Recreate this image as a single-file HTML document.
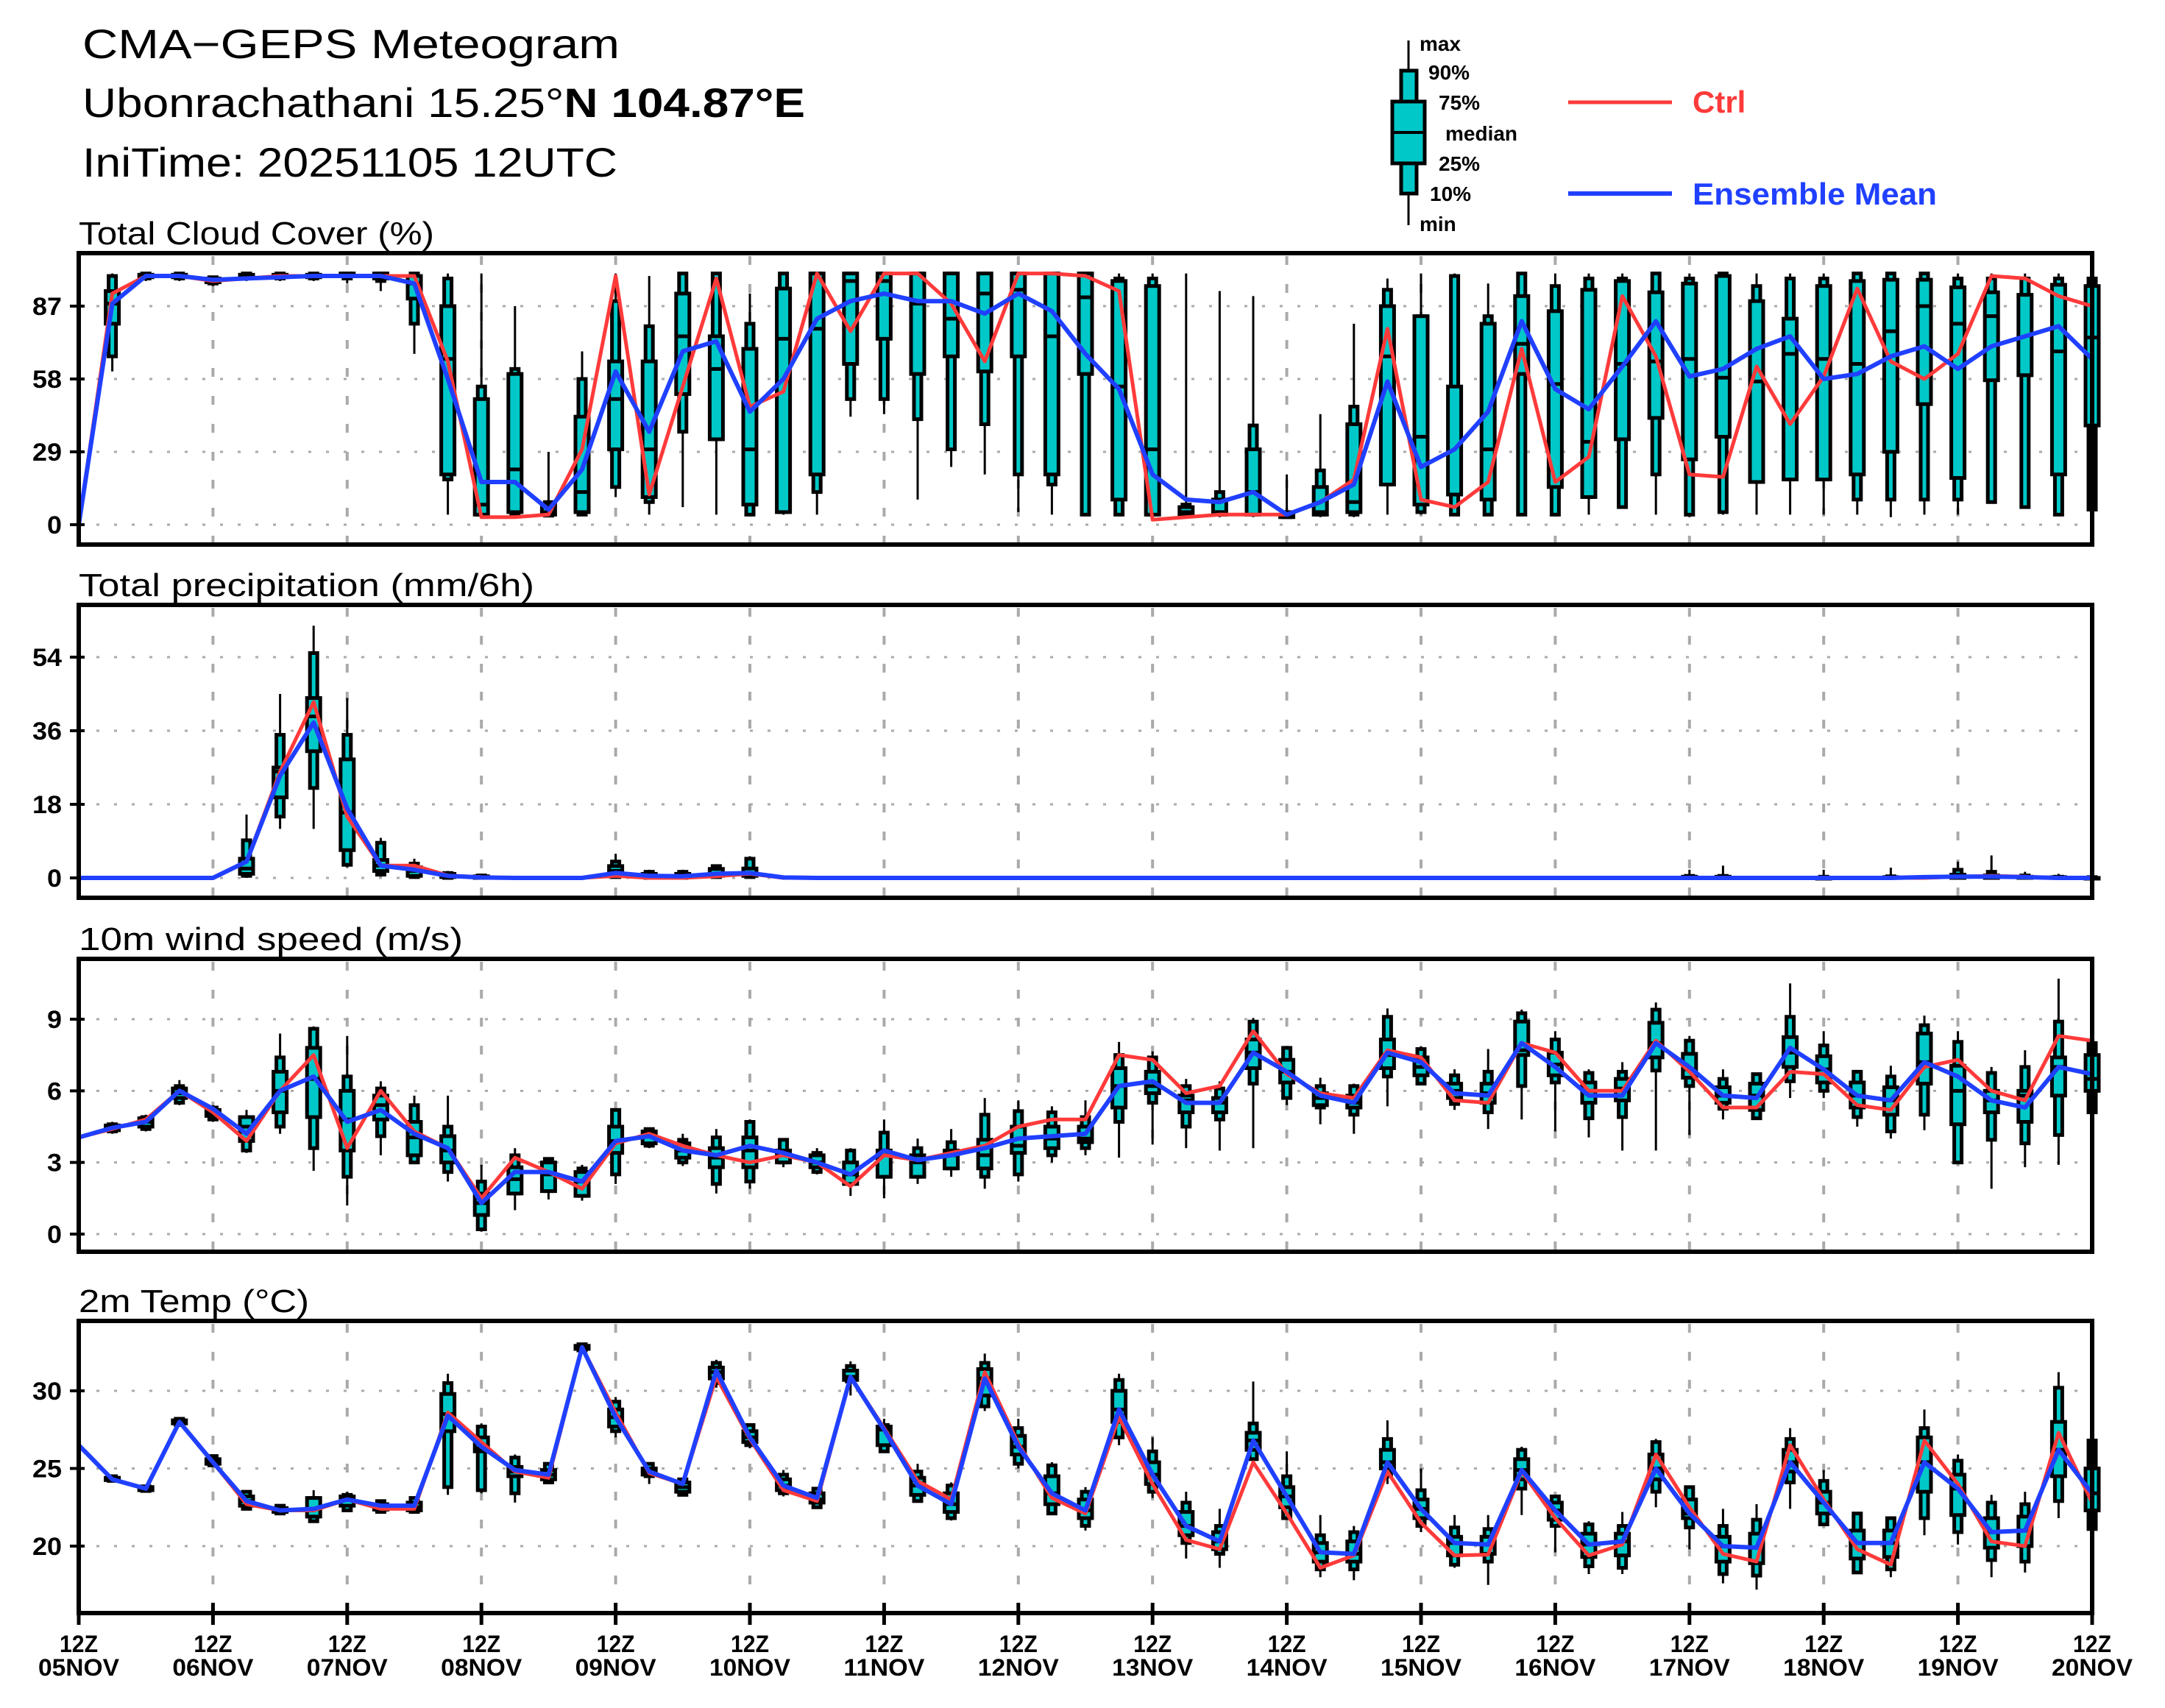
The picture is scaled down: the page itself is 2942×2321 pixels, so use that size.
<!DOCTYPE html>
<html><head><meta charset="utf-8"><title>CMA-GEPS Meteogram</title>
<style>html,body{margin:0;padding:0;background:#fff}svg{display:block}text{font-family:"Liberation Sans",sans-serif}</style>
</head><body>
<svg id="chart" xmlns="http://www.w3.org/2000/svg" width="2942" height="2321" viewBox="0 0 2942 2321">
<rect width="2942" height="2321" fill="#fff"/>
<g>
<text x="112" y="79" font-size="56" textLength="730" lengthAdjust="spacingAndGlyphs">CMA−GEPS Meteogram</text>
<text x="112" y="159" font-size="56" textLength="982" lengthAdjust="spacingAndGlyphs">Ubonrachathani 15.25°<tspan font-weight="bold">N 104.87°E</tspan></text>
<text x="112" y="240" font-size="56" textLength="727" lengthAdjust="spacingAndGlyphs">IniTime: 20251105 12UTC</text>
</g>
<g font-weight="bold" font-size="28">
<line x1="1914" y1="55" x2="1914" y2="306" stroke="#000" stroke-width="3"/>
<rect x="1904" y="96" width="21" height="167" fill="#00c8c8" stroke="#000" stroke-width="5"/>
<rect x="1892" y="138" width="44" height="84" fill="#00c8c8" stroke="#000" stroke-width="5"/>
<line x1="1892" y1="180" x2="1936" y2="180" stroke="#000" stroke-width="4"/>
<text x="1929" y="69">max</text><text x="1941" y="108">90%</text><text x="1955" y="149">75%</text>
<text x="1964" y="191">median</text><text x="1955" y="232">25%</text><text x="1943" y="273">10%</text><text x="1929" y="314">min</text>
</g>
<g>
<line x1="2131" y1="139" x2="2272" y2="139" stroke="#ff3a3a" stroke-width="5"/>
<text x="2300" y="153" font-size="42" font-weight="bold" fill="#ff3a3a">Ctrl</text>
</g>
<g>
<line x1="2131" y1="263" x2="2272" y2="263" stroke="#2040ff" stroke-width="6"/>
<text x="2300" y="278" font-size="42" font-weight="bold" fill="#2040ff" textLength="332" lengthAdjust="spacingAndGlyphs">Ensemble Mean</text>
</g>
<g id="panels"></g>
</svg>
<script>
// ---- shared time axis ----
const timeSteps = 61;
const dayLabels = ["05NOV","06NOV","07NOV","08NOV","09NOV","10NOV","11NOV","12NOV","13NOV","14NOV","15NOV","16NOV","17NOV","18NOV","19NOV","20NOV"];

// ---- Total Cloud Cover ----
const cloudTicks = [0,29,58,87];
const cloudCtrl = [0,92,99,99,97,98,99,99,99,99,99,65,3,3,4,30,99,12,55,98,47,53,100,77,100,100,88,65,100,100,99,93,2,3,4,4,4,9,18,78,10,7,17,70,17,27,91,67,20,19,63,40,59,94,65,58,68,99,98,91,87];
const cloudMean = [0,88,99,99,97.5,98,98.5,99,99,99,96,58,17,17,6,22,61,37,69,73,45,58,82,89,92,89,89,84,92,85,68,54,20,10,9,13,4,9,16,57,23,30,45,81,54,46,63,81,59,62,70,75,58,60,67,71,62,71,75,79,66];
const cloudBox = [null,[61,67,80,88,93,99,100],[97,98,98.5,99,99.5,100,100],[97,98,98.5,99,99.5,100,100],[95,96,96.5,97,98,98.5,99],[97,98,98.5,99,99.5,100,100],[97,98,98.5,99,99.5,100,100],[97,98,98.5,99,99.5,100,100],[96,98,99,99,100,100,100],[93,97,98,99,100,100,100],[68,80,90,96,99,100,100],
[4,18,20,66,87,98,100],[3,4,4,8,50,55,100],[3,4,5,22,60,62,87],[3,3.6,4,5,8,9,29],[4,4,5,13,43,58,69],[11,15,30,50,65,89,100],[4,9,11,30,65,79,99],[7,37,52,75,92,100,100],[4,34,34,62,75,100,100],[4,4,8,30,70,80,92],
[4,5,5,74,94,100,100],[4,13,20,78,100,100,100],[43,50,64,97,100,100,100],[44,50,74,97,100,100,100],[10,42,60,88,100,100,100],[23,30,67,82,100,100,100],[20,40,61,92,100,100,100],[5,20,67,93.5,100,100,100],[4,16,20,75,100,100,100],[4,4,60,90.5,100,100,100],
[4,4,10,55,97,98,100],[4,4,4,30,95,98,100],[3,4,4,5,7,8,100],[3,4,4,5,10,13,93],[3,4,4,13,30,39.5,91],[3,3,3,4,4,5,20],[3,4,4,5,15,21.6,44],[3,4,5,9,40,47,80],[4,16,16,67,87,93.5,98],[4,5,8,35,83,83,100],
[4,4,12,12,55,99,100],[4,4,10,30,80,83,96],[4,4,60,72,91,100,100],[4,4,15,56,85,95,100],[4,11,11,33,93.5,98,100],[7,7,34,64,97,98,100],[4,20,42.5,65,92.5,100,100],[3,4,26,66,96,98,100],[4,5,35,58.5,99,100,100],[4,17,17,57,89,95,100],
[4,18,18,68,82,98,100],[4,18,18,66,95,98,100],[4,10,20,64,97,100,100],[3,10,29,77,97.5,100,100],[4,10,48,87,97.5,100,100],[4,10,18.6,80,94.5,98,100],[9,9,57.5,83,92.5,98,100],[7,7,59.5,59.5,91.5,98,100],[4,4,20,69,95.5,98,100],[4,6,39.5,74.5,95,98,100]];

// ---- Total precipitation ----
const precTicks = [0,18,36,54];
const precCtrl = [0,0,0,0,0,4,26,43,15,3,3,0.6,0.2,0,0,0,0.5,0,0,0.4,1,0,0,0,0,0,0,0,0,0,0,0,0,0,0,0,0,0,0,0,0,0,0,0,0,0,0,0,0,0,0,0,0,0,0,0,0.3,0.5,0.3,0,0];
const precMean = [0,0,0,0,0,4,25,38,17,3,2,0.5,0.1,0,0,0,1.2,0.5,0.4,1,1.2,0.1,0,0,0,0,0,0,0,0,0,0,0,0,0,0,0,0,0,0,0,0,0,0,0,0,0,0,0,0,0,0,0,0,0,0.2,0.3,0.3,0.2,0,0];
const precBox = [null,null,null,null,null,[0,0.5,1,2.3,4.7,9.2,15.5],[12,15,19.7,26,27,35,45],[12,22,31,39.5,44,55,61.7],[2.6,3.2,6.8,16,29,35,44],[0.3,0.8,1.7,3,4.4,8.6,9.8],[0,0.2,0.5,1.7,2.6,3.5,4.7],
[0,0,0.2,0.5,1,1.2,1.7],[0,0,0,0.2,0.4,0.6,1],null,null,null,[0,0.2,0.5,1.7,2.9,4,5.9],[0,0,0.2,0.5,1,1.5,2],[0,0,0.1,0.5,1,1.5,2],[0,0.2,0.5,1,2.2,2.9,3.2],[0,0.2,0.5,1.1,2.3,4.7,5.3],
null,null,null,null,null,null,null,null,null,null,
null,null,null,null,null,null,null,null,null,null,
null,null,null,null,null,null,null,
[0,0,0,0,0.3,0.5,2],[0,0,0,0,0.3,0.5,3],null,null,[0,0,0,0,0,0.3,2],null,[0,0,0,0,0.2,0.4,2.5],null,[0,0,0,0.2,0.8,2,4],[0,0,0,0.2,0.6,1.5,5.5],[0,0,0,0,0.3,0.6,1.5],[0,0,0,0,0.2,0.3,1],[0,0,0,0,0,0.2,0.5]];

// ---- 10m wind speed ----
const windTicks = [0,3,6,9];
const windCtrl = [4.05,4.4,4.8,6.0,5.1,3.9,6.0,7.5,3.6,6.0,4.3,3.6,1.5,3.2,2.6,1.9,3.8,4.2,3.7,3.3,3.0,3.3,3.0,2.0,3.3,3.1,3.4,3.7,4.5,4.8,4.8,7.5,7.3,5.9,6.2,8.5,6.7,5.9,5.7,7.7,7.4,5.6,5.5,8.0,7.6,6.0,6.0,8.1,6.8,5.3,5.3,6.8,6.7,5.4,5.2,7.0,7.3,6.0,5.6,8.3,8.1];
const windMean = [4.05,4.45,4.7,6.0,5.25,4.2,6.0,6.6,4.7,5.2,4.2,3.6,1.3,2.6,2.6,2.2,3.9,4.1,3.5,3.3,3.7,3.4,3.0,2.5,3.5,3.1,3.3,3.6,4.0,4.1,4.2,6.2,6.4,5.5,5.5,7.6,6.8,5.8,5.5,7.6,7.2,5.9,5.8,8.0,7.0,5.8,5.8,8.0,7.0,5.8,5.7,7.8,6.9,5.8,5.6,7.2,6.6,5.6,5.3,7.0,6.7];
const windBox = [null,[4.2,4.3,4.35,4.45,4.55,4.6,4.7],[4.3,4.4,4.5,4.7,4.85,4.9,5.0],[5.4,5.5,5.7,5.9,6.1,6.2,6.45],[4.7,4.8,4.95,5.1,5.2,5.3,5.4],[3.4,3.5,3.9,4.5,4.9,4.9,5.2],[4.2,4.5,5.1,6.0,6.8,7.4,8.4],[2.65,3.6,4.9,6.5,7.8,8.6,8.7],[1.2,2.4,3.5,4.8,6.0,6.6,8.3],[3.3,4.1,4.8,5.4,5.8,6.1,6.4],[3.0,3.0,3.3,4.05,4.7,5.4,5.8],
[2.2,2.6,3.0,3.5,4.1,4.5,5.8],[0.1,0.2,0.8,1.3,1.7,2.2,2.9],[1.0,1.7,1.7,2.3,2.8,3.3,3.6],[1.45,1.8,1.8,2.5,3.0,3.15,3.2],[1.4,1.6,1.6,2.2,2.6,2.75,2.9],[2.1,2.5,3.4,3.9,4.5,5.2,5.25],[3.6,3.7,3.8,4.1,4.3,4.4,4.4],[2.85,3.0,3.2,3.5,3.8,3.95,4.2],[1.7,2.1,2.8,3.2,3.6,4.05,4.4],[1.9,2.2,2.8,3.5,4.05,4.7,4.8],
[2.8,3.0,3.0,3.3,3.5,3.95,4.0],[2.5,2.6,2.8,3.0,3.3,3.4,3.6],[1.6,2.1,2.1,2.5,3.0,3.5,3.6],[1.5,2.4,2.4,3.3,3.5,4.25,4.8],[2.1,2.4,2.4,3.0,3.3,3.6,4.0],[2.4,2.75,2.75,3.3,3.5,3.85,4.4],[1.9,2.4,2.75,3.3,3.95,5.0,5.7],[2.2,2.5,3.4,3.7,4.5,5.15,5.6],[3.0,3.3,3.6,4.0,4.5,5.1,5.35],[3.3,3.6,3.85,4.0,4.5,4.9,5.6],
[3.2,4.7,5.3,6.2,6.95,7.5,8.05],[3.75,5.5,5.9,6.2,6.8,7.4,7.65],[3.6,4.5,5.1,5.6,5.8,6.2,6.5],[3.5,4.8,5.1,5.5,5.7,6.1,6.4],[3.6,6.3,6.95,7.6,8.15,8.9,9.05],[5.4,5.7,6.35,6.8,7.3,7.8,7.85],[4.6,5.3,5.4,5.7,5.9,6.2,6.55],[4.2,5.0,5.3,5.5,5.8,6.2,6.3],[5.35,6.6,6.95,7.5,8.15,9.1,9.45],[6.3,6.3,6.65,7.0,7.4,7.75,7.85],
[5.2,5.45,5.7,6.0,6.3,6.65,6.9],[4.4,5.1,5.5,5.9,6.3,6.8,7.75],[4.8,6.2,7.5,7.7,8.9,9.25,9.4],[4.3,6.35,6.65,7.1,7.6,8.15,8.5],[4.05,4.85,5.5,6.0,6.35,6.75,6.9],[3.5,4.9,5.6,6.1,6.5,6.8,7.2],[3.5,6.85,7.4,8.0,8.85,9.4,9.7],[4.15,6.2,6.55,6.9,7.55,8.1,8.3],[4.8,5.25,5.5,5.8,6.15,6.5,6.9],[4.8,4.85,5.2,5.8,6.3,6.7,6.75],
[5.7,6.4,7.0,7.6,8.25,9.1,10.5],[5.7,6.0,6.35,6.9,7.45,7.9,8.5],[4.5,4.9,5.3,5.8,6.35,6.8,6.85],[4.0,4.3,5.0,5.6,6.15,6.6,7.05],[4.35,5.0,6.3,7.2,8.4,8.75,9.15],[3.0,3.0,4.6,6.0,7.05,8.05,8.5],[1.9,3.95,5.1,5.6,6.0,6.75,7.0],[2.8,3.8,4.7,5.8,6.0,7.0,7.7],[2.9,4.15,5.8,7.0,7.4,8.9,10.7],[5.1,5.1,6.0,6.5,7.5,8.0,8.1]];

// ---- 2m Temperature ----
const tempTicks = [20,25,30];
const tempCtrl = [26.5,24.3,23.7,28.0,25.4,22.7,22.3,22.3,23.0,22.4,22.4,28.6,26.7,24.8,24.4,32.8,28.6,24.7,24.0,30.9,26.9,23.6,22.9,30.9,27.6,24.2,23.0,31.2,26.6,23.1,22.1,28.3,24.0,20.4,19.8,25.4,22.1,18.6,19.4,24.8,21.5,19.4,19.45,24.8,21.8,19.4,20.1,25.9,22.5,19.5,19.0,26.5,23.0,19.8,18.8,26.8,24.0,20.3,20.0,27.3,22.8];
const tempMean = [26.5,24.3,23.7,28.0,25.4,22.9,22.3,22.4,23.0,22.6,22.6,28.4,26.4,24.9,24.6,32.8,28.3,24.8,24.0,31.3,27.0,23.9,23.1,30.9,27.5,23.9,22.7,30.8,26.4,23.4,22.3,28.8,24.6,21.3,20.3,26.8,23.2,19.6,19.5,25.4,22.4,20.2,20.1,24.9,22.3,20.1,20.3,25.0,22.1,20.0,19.9,25.4,22.8,20.2,20.2,25.4,23.7,20.9,21.0,26.2,23.4];
const tempBox = [null,[24.1,24.2,24.25,24.3,24.4,24.5,24.55],[23.5,23.55,23.6,23.7,23.8,23.85,23.9],[27.7,27.8,27.9,28.0,28.1,28.2,28.3],[25.1,25.2,25.3,25.4,25.6,25.8,25.9],[22.3,22.4,22.6,22.9,23.2,23.5,23.6],[22.0,22.1,22.2,22.3,22.45,22.6,22.7],[21.6,21.6,21.9,22.4,23.1,23.1,23.6],[22.2,22.3,22.6,23.0,23.2,23.3,23.5],[22.1,22.2,22.35,22.5,22.7,22.9,23.0],[22.1,22.2,22.3,22.5,22.8,23.1,23.2],
[23.3,23.8,27.4,28.5,29.8,30.5,31.1],[23.4,23.6,26.1,26.3,27.0,27.7,27.9],[22.8,23.4,24.5,24.8,25.1,25.7,25.9],[24.0,24.1,24.3,24.6,24.9,25.3,25.4],[32.5,32.6,32.7,32.8,32.9,33.0,33.1],[27.0,27.4,27.7,28.3,28.8,29.3,29.6],[24.0,24.5,24.6,24.8,25.0,25.3,25.4],[23.2,23.3,23.5,23.8,24.1,24.3,24.4],[30.2,30.5,30.8,31.2,31.5,31.8,32.0],
[26.3,26.5,26.7,27.0,27.4,27.8,27.9],[23.2,23.4,23.6,23.9,24.3,24.6,24.9],[22.4,22.5,22.8,23.0,23.4,23.7,23.8],[29.7,30.6,30.7,30.9,31.3,31.6,31.9],[26.0,26.1,26.5,27.5,27.7,27.8,28.2],[22.8,22.9,23.3,23.9,24.4,24.8,25.3],[21.65,21.8,22.2,22.7,23.4,23.9,24.1],[28.7,29.0,29.7,30.8,31.4,31.8,32.4],[25.0,25.3,25.9,26.4,27.1,27.6,28.2],[22.0,22.1,22.7,23.4,24.5,25.2,25.4],
[21.0,21.3,21.8,22.3,23.0,23.5,23.8],[26.5,27.0,28.0,28.8,30.0,30.7,31.1],[23.1,23.5,24.0,24.6,25.4,26.1,27.0],[19.2,20.2,20.7,21.3,22.2,22.8,23.5],[18.6,19.5,19.8,20.3,20.9,21.3,22.4],[25.5,25.6,26.2,26.8,27.3,27.9,30.6],[21.7,21.8,22.5,23.2,23.8,24.5,26.1],[18.0,18.5,19.0,19.6,20.2,20.7,22.0],[17.8,18.5,19.0,19.5,20.3,20.9,21.3],[24.0,24.5,25.0,25.4,26.2,26.9,28.1],
[20.9,21.3,21.8,22.4,23.0,23.6,25.0],[18.6,18.8,19.4,20.2,20.6,21.2,22.0],[17.5,19.0,19.5,20.1,20.6,21.1,22.0],[22.0,23.7,24.3,24.9,25.6,26.2,26.4],[19.6,21.3,21.7,22.3,22.8,23.2,23.3],[18.2,18.7,19.3,20.1,20.8,21.4,21.6],[18.2,18.6,19.4,20.3,20.8,21.3,22.2],[22.5,23.5,24.3,25.0,25.9,26.7,26.9],[19.8,21.2,21.8,22.1,23.0,23.8,23.8],[17.6,18.2,19.0,20.0,20.6,21.3,22.4],
[17.2,18.1,18.9,19.9,20.8,21.7,22.7],[22.4,24.1,24.8,25.4,26.2,26.9,27.6],[21.4,21.4,22.1,22.8,23.5,24.2,24.9],[18.2,18.3,19.2,20.2,21.0,22.1,22.1],[18.0,18.5,19.3,20.2,21.0,21.8,21.8],[20.7,21.8,23.5,25.4,27.0,27.6,28.8],[20.1,20.9,22.0,23.7,24.6,25.5,25.9],[18.0,19.1,19.9,20.9,21.8,22.8,23.3],[18.3,19.0,20.0,21.0,21.9,22.7,23.5],[21.8,22.9,24.5,26.2,28.0,30.2,31.2],[21.1,21.1,22.3,23.4,25.0,26.8,26.8]];

const NS = "http://www.w3.org/2000/svg";
const XL = 107, XR = 2843;
function xScale(t){ return XL + (XR - XL) * t / (timeSteps - 1); }
function mk(tag, attrs, parent){ const e = document.createElementNS(NS, tag); for (const k in attrs) e.setAttribute(k, attrs[k]); parent.appendChild(e); return e; }

const panelsRoot = document.getElementById("panels");

function drawPanel(cfg){
  const g = mk("g", {}, panelsRoot);
  
  
  const yScale = v => cfg.y0px + (v - cfg.v0) * (cfg.y1px - cfg.y0px) / (cfg.v1 - cfg.v0);
  const tt = mk("text", {x: 107, y: cfg.top - 12, "font-size": 44, textLength: cfg.titleLen, lengthAdjust: "spacingAndGlyphs"}, g);
  
  
  tt.textContent = cfg.title;
  cfg.ticks.forEach(v => {
    const y = yScale(v);
    const gl = mk("line", {x1: XL, x2: XR, y1: y, y2: y, stroke: "#aaa", "stroke-width": 3, "stroke-dasharray": "4 20"}, g);
    
    
    mk("line", {x1: XL - 12, x2: XL + 8, y1: y, y2: y, stroke: "#000", "stroke-width": 4}, g);
    const lb = mk("text", {x: 84, y: y + 12, "font-size": 34, "font-weight": "bold", "text-anchor": "end", textLength: String(v).length * 20, lengthAdjust: "spacingAndGlyphs"}, g);
    
    
    lb.textContent = v;
  });
  for (let t = 4; t < timeSteps - 1; t += 4){
    const x = xScale(t);
    const vl = mk("line", {x1: x, x2: x, y1: cfg.top + 4, y2: cfg.bottom, stroke: "#aaa", "stroke-width": 4, "stroke-dasharray": "12 26"}, g);
    
    
  }
  const boxes = mk("g", {}, g);
  
  
  cfg.box.forEach((b, t) => {
    if (!b || t >= timeSteps) return;
    if (cfg.minRange && b[6] - b[0] < cfg.minRange) return;
    const x = xScale(t);
    const bg = mk("g", {}, boxes);
    
    
    mk("line", {x1: x, x2: x, y1: yScale(b[0]), y2: yScale(b[6]), stroke: "#000", "stroke-width": 3}, bg);
    mk("rect", {x: x - 5, y: yScale(b[5]), width: 10, height: Math.max(1, yScale(b[1]) - yScale(b[5])), fill: "#00c8c8", stroke: "#000", "stroke-width": 5}, bg);
    mk("rect", {x: x - 9, y: yScale(b[4]), width: 18, height: Math.max(1, yScale(b[2]) - yScale(b[4])), fill: "#00c8c8", stroke: "#000", "stroke-width": 5}, bg);
    mk("line", {x1: x - 9, x2: x + 9, y1: yScale(b[3]), y2: yScale(b[3]), stroke: "#000", "stroke-width": 5}, bg);
  });
  const ctrlPts = cfg.ctrl.map((v, t) => xScale(t).toFixed(1) + "," + yScale(v).toFixed(1)).join(" ");
  const meanPts = cfg.mean.map((v, t) => xScale(t).toFixed(1) + "," + yScale(v).toFixed(1)).join(" ");
  const cl = mk("polyline", {points: ctrlPts, fill: "none", stroke: "#ff3a3a", "stroke-width": 5, "stroke-linejoin": "round"}, g);
  
  
  const ml = mk("polyline", {points: meanPts, fill: "none", stroke: "#2040ff", "stroke-width": 6, "stroke-linejoin": "round"}, g);
  
  
  const fr = mk("rect", {x: XL, y: cfg.top, width: XR - XL, height: cfg.bottom - cfg.top, fill: "none", stroke: "#000", "stroke-width": 6}, g);
  
  
}

drawPanel({name: "cloud-cover-panel", title: "Total Cloud Cover (%)", titleLen: 483, top: 344, bottom: 740, v0: 0, v1: 87, y0px: 713, y1px: 416, ticks: cloudTicks, ctrl: cloudCtrl, mean: cloudMean, box: cloudBox});
drawPanel({name: "precip-panel", title: "Total precipitation (mm/6h)", titleLen: 619, top: 822, bottom: 1220, v0: 0, v1: 54, y0px: 1193, y1px: 893, ticks: precTicks, ctrl: precCtrl, mean: precMean, box: precBox, minRange: 0.3});
drawPanel({name: "wind-panel", title: "10m wind speed (m/s)", titleLen: 522, top: 1303, bottom: 1701, v0: 0, v1: 9, y0px: 1677, y1px: 1385, ticks: windTicks, ctrl: windCtrl, mean: windMean, box: windBox});
drawPanel({name: "temp-panel", title: "2m Temp (°C)", titleLen: 313, top: 1795, bottom: 2192, v0: 20, v1: 30, y0px: 2101, y1px: 1890, ticks: tempTicks, ctrl: tempCtrl, mean: tempMean, box: tempBox});

const xg = mk("g", {}, panelsRoot);


dayLabels.forEach((d, i) => {
  const x = xScale(i * 4);
  mk("line", {x1: x, x2: x, y1: 2178, y2: 2208, stroke: "#000", "stroke-width": 5}, xg);
  const a = mk("text", {x: x, y: 2245, "font-size": 32, "font-weight": "bold", "text-anchor": "middle", textLength: 52, lengthAdjust: "spacingAndGlyphs"}, xg);
  
  
  a.textContent = "12Z";
  const b = mk("text", {x: x, y: 2277, "font-size": 32, "font-weight": "bold", "text-anchor": "middle", textLength: 110, lengthAdjust: "spacingAndGlyphs"}, xg);
  
  
  b.textContent = d;
});
</script>
</body></html>
